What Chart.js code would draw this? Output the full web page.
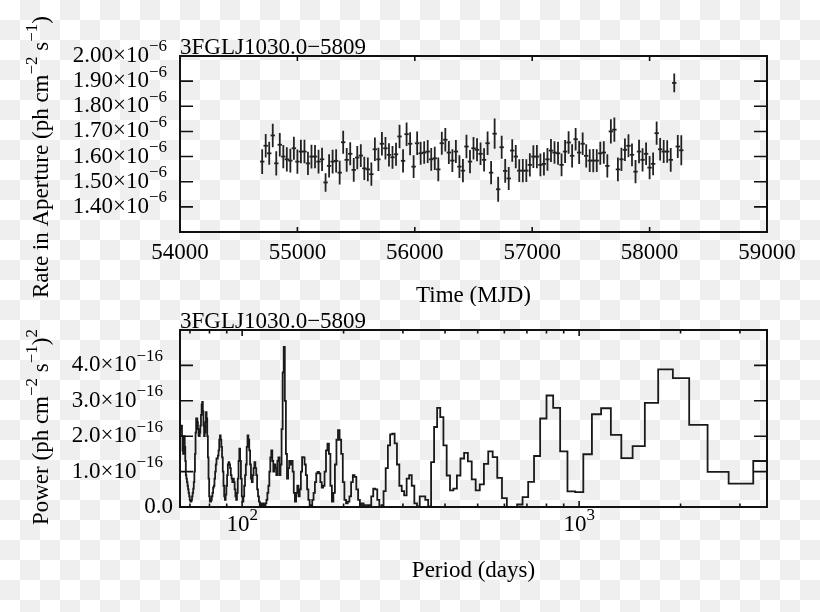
<!DOCTYPE html>
<html>
<head>
<meta charset="utf-8">
<script src="https://cdn.jsdelivr.net/npm/chart.js@4/dist/chart.umd.min.js"></script>
<style>
  html, body { margin: 0; padding: 0; }
  body {
    width: 820px; height: 612px; position: relative; overflow: hidden;
    background: repeating-conic-gradient(#efefef 0 25%, #fff 0 50%) 0 0 / 40px 40px;
  }
  .panel { position: absolute; left: 0; width: 820px; height: 306px; }
  #top { top: 0; }
  #bottom { top: 306px; }
</style>
</head>
<body>
<div class="panel" id="top"><canvas id="lightcurve"></canvas></div>
<div class="panel" id="bottom"><canvas id="periodogram"></canvas></div>
<script>
const SOURCE = '3FGLJ1030.0\u22125809';

// light curve, 30-day bins (MJD), rate in units of 1e-6 ph cm^-2 s^-1
const mjd = [
  54700, 54730, 54760, 54790, 54820, 54850, 54880, 54910, 54940, 54970,
  55000, 55030, 55060, 55090, 55120, 55150, 55180, 55210, 55240, 55270,
  55300, 55330, 55360, 55390, 55420, 55450, 55480, 55510, 55540, 55570,
  55600, 55630, 55660, 55690, 55720, 55750, 55780, 55810, 55840, 55870,
  55900, 55930, 55960, 55990, 56020, 56050, 56080, 56110, 56140, 56170,
  56200, 56230, 56260, 56290, 56320, 56350, 56380, 56410, 56440, 56470,
  56500, 56530, 56560, 56590, 56620, 56650, 56680, 56710, 56740, 56770,
  56800, 56830, 56860, 56890, 56920, 56950, 56980, 57010, 57040, 57070,
  57100, 57130, 57160, 57190, 57220, 57250, 57280, 57310, 57340, 57370,
  57400, 57430, 57460, 57490, 57520, 57550, 57580, 57610, 57640, 57670,
  57700, 57730, 57760, 57790, 57820, 57850, 57880, 57910, 57940, 57970,
  58000, 58030, 58060, 58090, 58120, 58150, 58180, 58210, 58240, 58270
];
const rate = [
  1.580, 1.643, 1.613, 1.684, 1.573, 1.647, 1.600, 1.589, 1.584, 1.633,
  1.580, 1.620, 1.620, 1.573, 1.600, 1.600, 1.580, 1.589, 1.497, 1.563,
  1.580, 1.583, 1.536, 1.657, 1.587, 1.611, 1.547, 1.596, 1.604, 1.553,
  1.549, 1.530, 1.629, 1.589, 1.651, 1.633, 1.607, 1.597, 1.609, 1.680,
  1.583, 1.689, 1.651, 1.560, 1.653, 1.613, 1.616, 1.620, 1.589, 1.593,
  1.549, 1.653, 1.667, 1.616, 1.584, 1.620, 1.560, 1.544, 1.640, 1.580,
  1.633, 1.627, 1.611, 1.587, 1.653, 1.536, 1.691, 1.470, 1.637, 1.543,
  1.513, 1.624, 1.600, 1.544, 1.544, 1.544, 1.567, 1.600, 1.600, 1.567,
  1.571, 1.589, 1.624, 1.616, 1.613, 1.567, 1.620, 1.656, 1.603, 1.669,
  1.616, 1.651, 1.603, 1.584, 1.584, 1.584, 1.613, 1.616, 1.563, 1.700,
  1.707, 1.549, 1.589, 1.627, 1.643, 1.607, 1.540, 1.620, 1.587, 1.611,
  1.556, 1.571, 1.693, 1.629, 1.620, 1.620, 1.587, 1.893, 1.640, 1.625
];
const rateErr = [
  0.049, 0.047, 0.046, 0.047, 0.048, 0.047, 0.046, 0.048, 0.047, 0.046,
  0.048, 0.047, 0.047, 0.046, 0.047, 0.046, 0.047, 0.046, 0.037, 0.046,
  0.047, 0.046, 0.047, 0.046, 0.047, 0.046, 0.047, 0.046, 0.045, 0.046,
  0.047, 0.046, 0.047, 0.046, 0.047, 0.045, 0.046, 0.045, 0.046, 0.047,
  0.046, 0.047, 0.046, 0.045, 0.047, 0.046, 0.045, 0.046, 0.045, 0.046,
  0.047, 0.046, 0.047, 0.046, 0.045, 0.046, 0.045, 0.046, 0.047, 0.046,
  0.045, 0.046, 0.045, 0.046, 0.047, 0.046, 0.060, 0.050, 0.046, 0.047,
  0.046, 0.045, 0.046, 0.045, 0.046, 0.045, 0.046, 0.045, 0.046, 0.045,
  0.046, 0.045, 0.046, 0.045, 0.046, 0.045, 0.046, 0.045, 0.046, 0.045,
  0.046, 0.045, 0.046, 0.045, 0.046, 0.045, 0.046, 0.045, 0.046, 0.048,
  0.048, 0.047, 0.046, 0.045, 0.046, 0.045, 0.046, 0.047, 0.046, 0.045,
  0.046, 0.045, 0.046, 0.045, 0.046, 0.045, 0.047, 0.037, 0.046, 0.060
];
const rateTicks = [1.4, 1.5, 1.6, 1.7, 1.8, 1.9, 2.0];
const mjdTicks = [54000, 55000, 56000, 57000, 58000, 59000];

// periodogram: frequency bins k = 5 .. 275 (period = 18000 d / k), power in units of 1e-16
const FIRST_BIN = 5;
const BIN_PERIOD = 18000;
const power = [
  1.30, 0.66, 0.99, 2.32, 3.64, 3.89, 2.94, 1.72, 1.38, 2.04,
  2.79, 2.62, 1.49, 0.42, 0.44, 1.57, 2.80, 3.15, 2.50, 1.44,
  0.71, 0.28, 0.07, 0.00, 0.00, 0.25, 0.82, 1.41, 1.57, 1.22,
  0.64, 0.47, 0.78, 1.29, 1.53, 1.37, 0.89, 0.52, 0.47, 0.89,
  1.74, 2.54, 2.80, 2.26, 1.27, 0.02, 0.20, 0.30, 0.30, 0.02,
  0.10, 0.60, 0.90, 0.80, 0.33, 0.45, 0.60, 1.20, 1.80, 2.07,
  2.05, 1.74, 1.10, 0.45, 0.05, 0.00, 0.20, 0.50, 0.52, 0.30,
  0.05, 0.05, 0.00, 0.05, 0.10, 0.05, 0.20, 0.50, 0.85, 0.90,
  0.70, 0.30, 0.15, 0.10, 0.20, 0.70, 1.50, 1.90, 2.17, 1.90,
  1.20, 0.40, 0.15, 0.60, 1.50, 1.79, 1.60, 1.00, 0.60, 0.55,
  0.70, 0.95, 0.99, 0.95, 0.70, 0.40, 0.20, 0.05, 0.05, 0.20,
  0.50, 0.90, 1.20, 1.40, 1.41, 1.00, 0.50, 0.30, 0.60, 0.40,
  0.15, 0.40, 1.00, 1.30, 1.20, 1.30, 1.10, 0.80, 1.50, 3.00,
  4.52, 3.80, 2.20, 1.20, 0.90, 1.40, 1.30, 0.90, 1.10, 1.20,
  1.00, 1.30, 1.60, 1.40, 1.00, 0.60, 0.40, 0.20, 0.10, 0.05,
  0.05, 0.10, 0.05, 0.10, 0.05, 0.15, 0.30, 0.50, 0.90, 1.10,
  1.27, 1.10, 0.90, 0.70, 0.80, 1.20, 1.60, 1.90, 2.02, 1.70,
  1.20, 0.90, 0.60, 0.30, 0.15, 0.30, 0.80, 1.30, 1.65, 1.30,
  0.80, 0.40, 0.20, 0.30, 0.50, 0.70, 0.80, 0.70, 0.80, 0.90,
  1.10, 1.20, 1.27, 1.20, 0.90, 0.60, 0.35, 0.20, 0.30, 0.60,
  1.00, 1.40, 1.70, 1.90, 2.02, 1.90, 1.60, 1.45, 1.37, 1.37,
  1.20, 1.00, 0.80, 0.60, 0.55, 0.40, 0.30, 0.20, 0.15, 0.15,
  0.30, 0.80, 1.40, 2.00, 2.50, 2.68, 2.40, 2.10, 2.00, 2.30,
  2.70, 2.97, 2.90, 2.60, 2.30, 2.10, 2.00, 2.02, 2.20, 2.40,
  2.50, 2.50, 2.10, 1.50, 1.00, 0.70, 0.52, 0.40, 0.30, 0.20,
  0.15, 0.15, 0.20, 0.30, 0.40, 0.50, 0.60, 0.70, 0.80, 0.90,
  1.30, 1.70, 2.00, 1.90, 1.50, 1.60, 2.00, 2.30, 2.25, 2.20,
  2.20
];
const powerTicks = [0, 1, 2, 3, 4];
const periodMajor = [100, 1000];
const periodMinor = [70, 80, 90, 200, 300, 400, 500, 600, 700, 800, 900, 2000, 3000];

const MAIN_FONT = '23px "Liberation Serif", "DejaVu Serif", serif';
const SUP_FONT = '17px "Liberation Serif", "DejaVu Serif", serif';
const INK = '#111';

// parts: [[text, isSuperscript]]
function drawRich(ctx, parts, x, y, align, vertical) {
  ctx.save();
  ctx.translate(x, y);
  if (vertical) ctx.rotate(-Math.PI / 2);
  let w = 0;
  parts.forEach(([t, sup]) => {
    ctx.font = sup ? SUP_FONT : MAIN_FONT;
    w += ctx.measureText(t).width;
  });
  let cx = align === 'right' ? -w : align === 'center' ? -w / 2 : 0;
  ctx.textAlign = 'left';
  ctx.textBaseline = 'middle';
  ctx.fillStyle = '#000';
  parts.forEach(([t, sup]) => {
    ctx.font = sup ? SUP_FONT : MAIN_FONT;
    ctx.fillText(t, cx, sup ? -9 : 0);
    cx += ctx.measureText(t).width;
  });
  ctx.restore();
}

function seg(ctx, x1, y1, x2, y2) {
  ctx.moveTo(x1, y1);
  ctx.lineTo(x2, y2);
}

function drawTitle(ctx, a) {
  ctx.font = MAIN_FONT;
  ctx.fillStyle = '#000';
  ctx.textAlign = 'left';
  ctx.textBaseline = 'alphabetic';
  ctx.fillText(SOURCE, a.left, a.top - 2);
}

const errorBars = {
  id: 'errorBars',
  beforeDatasetsDraw(chart) {
    const { ctx, scales: { x, y } } = chart;
    ctx.save();
    ctx.strokeStyle = '#222';
    ctx.lineWidth = 1.8;
    ctx.beginPath();
    mjd.forEach((t, i) => {
      const px = x.getPixelForValue(t);
      seg(ctx, px, y.getPixelForValue(rate[i] - rateErr[i]), px, y.getPixelForValue(rate[i] + rateErr[i]));
    });
    ctx.stroke();
    ctx.restore();
  }
};

const lightCurveFrame = {
  id: 'lightCurveFrame',
  afterDraw(chart) {
    const { ctx, chartArea: a, scales: { x, y } } = chart;
    ctx.save();
    ctx.strokeStyle = INK;
    ctx.lineWidth = 2;
    ctx.strokeRect(a.left, a.top, a.right - a.left, a.bottom - a.top);
    ctx.lineWidth = 1.6;
    ctx.beginPath();
    rateTicks.forEach(v => {
      const py = y.getPixelForValue(v);
      if (py <= a.top + 1 || py >= a.bottom - 1) return;
      seg(ctx, a.left, py, a.left + 13, py);
      seg(ctx, a.right, py, a.right - 13, py);
    });
    mjdTicks.forEach(v => {
      const px = x.getPixelForValue(v);
      if (px <= a.left + 1 || px >= a.right - 1) return;
      seg(ctx, px, a.top, px, a.top + 5);
      seg(ctx, px, a.bottom, px, a.bottom - 5);
    });
    ctx.stroke();

    rateTicks.forEach(v => {
      drawRich(ctx, [[v.toFixed(2) + '\u00d710'], ['\u22126', true]], a.left - 13, y.getPixelForValue(v), 'right');
    });
    mjdTicks.forEach(v => {
      drawRich(ctx, [[String(v)]], x.getPixelForValue(v), a.bottom + 21, 'center');
    });
    drawRich(ctx, [['Time (MJD)']], (a.left + a.right) / 2, a.bottom + 64, 'center');
    drawRich(ctx, [['Rate in Aperture (ph cm'], ['\u22122', true], [' s'], ['\u22121', true], [')']], 42, 157, 'center', true);
    drawTitle(ctx, a);
    ctx.restore();
  }
};

const periodogramFrame = {
  id: 'periodogramFrame',
  afterDraw(chart) {
    const { ctx, chartArea: a, scales: { x, y } } = chart;
    ctx.save();
    ctx.strokeStyle = INK;
    ctx.lineWidth = 2;
    ctx.strokeRect(a.left, a.top, a.right - a.left, a.bottom - a.top);
    ctx.lineWidth = 1.6;
    ctx.beginPath();
    powerTicks.forEach(v => {
      const py = y.getPixelForValue(v);
      if (py <= a.top + 1 || py >= a.bottom - 1) return;
      seg(ctx, a.left, py, a.left + 13, py);
      seg(ctx, a.right, py, a.right - 13, py);
    });
    periodMajor.forEach(v => {
      const px = x.getPixelForValue(v);
      seg(ctx, px, a.top, px, a.top + 6);
      seg(ctx, px, a.bottom, px, a.bottom - 6);
    });
    periodMinor.forEach(v => {
      const px = x.getPixelForValue(v);
      seg(ctx, px, a.top, px, a.top + 3.5);
      seg(ctx, px, a.bottom, px, a.bottom - 3.5);
    });
    ctx.stroke();

    powerTicks.forEach(v => {
      const py = y.getPixelForValue(v);
      if (v === 0) {
        drawRich(ctx, [['0.0']], a.left - 7, py, 'right');
      } else {
        drawRich(ctx, [[v.toFixed(1) + '\u00d710'], ['\u221216', true]], a.left - 17, py, 'right');
      }
    });
    periodMajor.forEach(v => {
      const exp = String(Math.round(Math.log10(v)));
      drawRich(ctx, [['10'], [exp, true]], x.getPixelForValue(v), a.bottom + 18, 'center');
    });
    drawRich(ctx, [['Period (days)']], (a.left + a.right) / 2, a.bottom + 64, 'center');
    drawRich(ctx, [['Power (ph cm'], ['\u22122', true], [' s'], ['\u22121', true], [')'], ['2', true]], 42, 121, 'center', true);
    drawTitle(ctx, a);
    ctx.restore();
  }
};

function fixedAxis(size, horizontal) {
  return function (scale) {
    if (horizontal) scale.height = size; else scale.width = size;
  };
}

const hidden = { ticks: { display: false }, grid: { display: false }, border: { display: false } };

new Chart(document.getElementById('lightcurve'), {
  type: 'scatter',
  data: {
    datasets: [{
      data: mjd.map((t, i) => ({ x: t, y: rate[i] })),
      pointStyle: 'line',
      pointRadius: 2.2,
      pointBorderWidth: 1.8,
      borderColor: '#222',
      backgroundColor: '#222'
    }]
  },
  options: {
    responsive: true,
    maintainAspectRatio: false,
    animation: false,
    layout: { padding: { left: 0, right: 53, top: 56, bottom: 0 } },
    plugins: { legend: { display: false }, tooltip: { enabled: false } },
    scales: {
      x: { type: 'linear', min: 54000, max: 59000, ...hidden, afterFit: fixedAxis(74, true) },
      y: { type: 'linear', min: 1.3, max: 2.0, ...hidden, afterFit: fixedAxis(180, false) }
    }
  },
  plugins: [errorBars, lightCurveFrame]
});

new Chart(document.getElementById('periodogram'), {
  type: 'scatter',
  data: {
    datasets: [{
      data: power.map((p, i) => ({ x: BIN_PERIOD / (i + FIRST_BIN), y: p })),
      showLine: true,
      stepped: 'middle',
      borderColor: '#1a1a1a',
      borderWidth: 1.8,
      pointRadius: 0
    }]
  },
  options: {
    responsive: true,
    maintainAspectRatio: false,
    animation: false,
    layout: { padding: { left: 0, right: 53, top: 24, bottom: 0 } },
    plugins: { legend: { display: false }, tooltip: { enabled: false } },
    scales: {
      x: { type: 'logarithmic', min: 65.4, max: 3610, ...hidden, afterFit: fixedAxis(105, true) },
      y: { type: 'linear', min: 0, max: 5, ...hidden, afterFit: fixedAxis(180, false) }
    }
  },
  plugins: [periodogramFrame]
});
</script>
</body>
</html>
